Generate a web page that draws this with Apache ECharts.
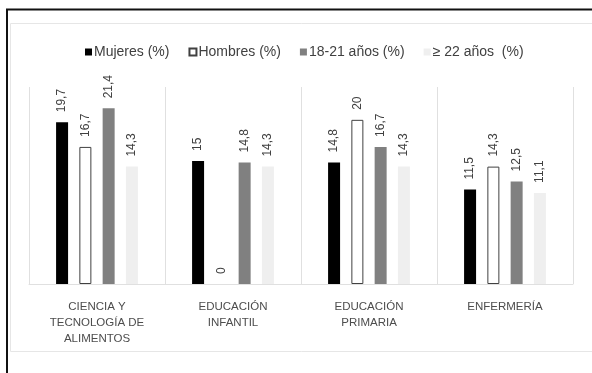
<!DOCTYPE html>
<html>
<head>
<meta charset="utf-8">
<script src="https://cdn.jsdelivr.net/npm/echarts@6/dist/echarts.min.js"></script>
<style>
html, body { margin: 0; padding: 0; background: #fff; }
#chart { width: 592px; height: 373px; }
</style>
</head>
<body>
<div id="chart"></div>
<script>
// datos
var categorias = ['CIENCIA Y\nTECNOLOGÍA DE\nALIMENTOS', 'EDUCACIÓN\nINFANTIL', 'EDUCACIÓN\nPRIMARIA', 'ENFERMERÍA'];
var mujeres = [19.7, 15, 14.8, 11.5];
var hombres = [16.7, 0, 20, 14.3];
var edad1821 = [21.4, 14.8, 16.7, 12.5];
var edad22 = [14.3, 14.3, 14.3, 11.1];
var nombres = ['Mujeres (%)', 'Hombres (%)', '18-21 años (%)', '≥ 22 años  (%)'];

var chart = echarts.init(document.getElementById('chart'));

function etiqueta() {
	return {
		show: true,
		position: 'top',
		rotate: 90,
		align: 'left',
		verticalAlign: 'middle',
		distance: 10,
		color: '#404040',
		fontSize: 12,
		fontFamily: 'Liberation Sans',
		formatter: function (p) { return String(p.value).replace('.', ','); }
	};
}

function serie(nombre, datos, relleno, borde) {
	// las barras con valor 0 no se dibujan con borde
	var puntos = datos.map(function (v) {
		return v > 0 ? v : { value: v, itemStyle: { borderWidth: 0 } };
	});
	return {
		name: nombre,
		type: 'bar',
		data: puntos,
		barWidth: 12,
		barGap: '94%',
		itemStyle: {
			color: relleno,
			borderColor: borde || relleno,
			borderWidth: borde ? 1 : 0
		},
		label: etiqueta()
	};
}

var option = {
	animation: false,
	textStyle: { fontFamily: 'Liberation Sans' },
	graphic: [
		{
			type: 'rect',
			shape: { x: 10.5, y: 23.5, width: 600, height: 328 },
			style: { fill: null, stroke: '#e6e6e6', lineWidth: 1 }
		},
		{
			type: 'polyline',
			shape: { points: [[7, 380], [7, 9.5], [600, 9.5]] },
			style: { fill: null, stroke: '#111', lineWidth: 2 }
		}
	],
	legend: {
		left: 80,
		top: 40,
		itemWidth: 7,
		itemHeight: 7,
		itemGap: 19,
		icon: 'rect',
		textStyle: { color: '#404040', fontSize: 14, padding: [0, 0, 0, -3] },
		data: nombres
	},
	grid: { left: 29, right: 19, top: 87, bottom: 89 },
	xAxis: {
		type: 'category',
		data: categorias,
		axisLine: { show: true, lineStyle: { color: '#e0e0e0', width: 1 } },
		axisTick: { show: false },
		splitLine: { show: true, interval: 0, lineStyle: { color: '#e0e0e0', width: 1 } },
		axisLabel: {
			interval: 0,
			margin: 15,
			color: '#4d4d4d',
			fontSize: 11.5,
			lineHeight: 16
		}
	},
	yAxis: {
		type: 'value',
		min: 0,
		max: 24,
		show: false,
		splitLine: { show: false }
	},
	series: [
		serie(nombres[0], mujeres, '#000000'),
		serie(nombres[1], hombres, '#ffffff', '#404040'),
		serie(nombres[2], edad1821, '#808080'),
		serie(nombres[3], edad22, '#efefef')
	]
};

chart.setOption(option);
</script>
</body>
</html>
